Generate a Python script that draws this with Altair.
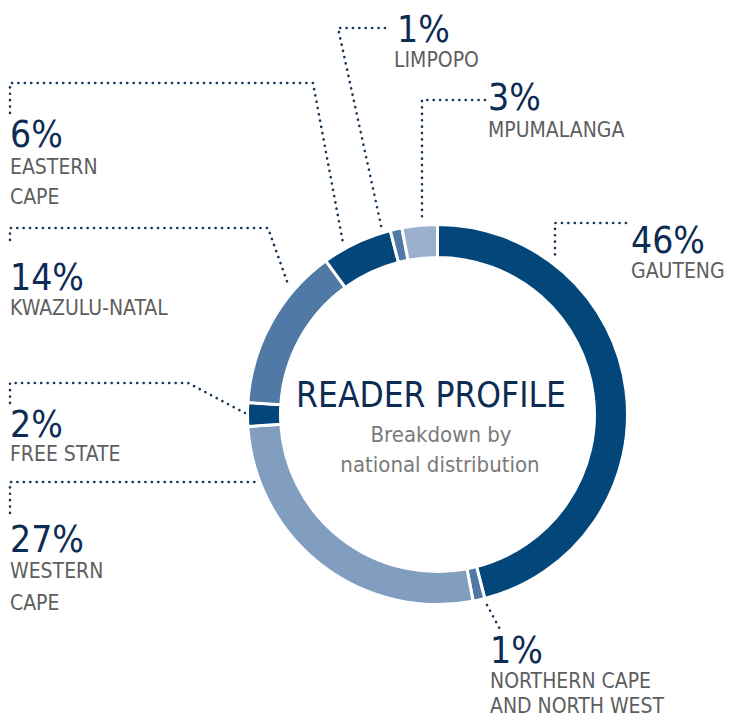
import altair as alt
import pandas as pd

# ---- data ----
regions = ["Gauteng", "Northern Cape and North West", "Western Cape", "Free State",
           "KwaZulu-Natal", "Eastern Cape", "Limpopo", "Mpumalanga"]
shares = [46, 1, 27, 2, 14, 6, 1, 3]
label_lines = [["GAUTENG"], ["NORTHERN CAPE", "AND NORTH WEST"], ["WESTERN", "CAPE"],
               ["FREE STATE"], ["KWAZULU-NATAL"], ["EASTERN", "CAPE"], ["LIMPOPO"], ["MPUMALANGA"]]
title_text = "READER PROFILE"
subtitle_lines = ["Breakdown by", "national distribution"]

# ---- styles / layout ----
slice_colors = ["#03477a", "#5079a5", "#819dc0", "#03477a", "#5079a5", "#03477a", "#5079a5", "#9bb0cd"]
NAVY = "#0d2c54"
GRAY = "#5e5e5e"
FONT = "Liberation Sans Narrow, DejaVu Sans Condensed, Roboto Condensed, Roboto"
CX, CY = 437.5, 414.5
pct_pos = [(631, 253), (490, 663), (10, 552), (10, 437), (10, 290), (10, 147), (397, 42), (488, 110)]
name_pos = [[(631, 278)], [(490, 688), (490, 713)], [(10, 578), (10, 610)], [(10, 461)],
            [(10, 315)], [(10, 174), (10, 204)], [(394, 67)], [(488, 137)]]
leaders = [
    [(626, 223), (555, 223), (555, 260)],
    [(487, 605), (502, 633)],
    [(10, 513), (10, 482), (255, 482)],
    [(10, 403), (10, 383), (188, 383), (245, 413)],
    [(10, 240), (10, 228), (268, 228), (289, 287)],
    [(10, 113), (10, 83), (313, 83), (343, 243)],
    [(385, 28), (338, 28), (382, 230)],
    [(485, 100), (422, 100), (422, 217)],
]

W, H = 717, 712
xs = alt.Scale(domain=[8, 8 + W], nice=False, zero=False)
ys = alt.Scale(domain=[8 + H, 8], nice=False, zero=False)

def X(f="x"):
    return alt.X(f"{f}:Q", scale=xs, axis=None)

def Y(f="y"):
    return alt.Y(f"{f}:Q", scale=ys, axis=None)

slices = pd.DataFrame({"region": regions, "share": shares, "idx": range(len(regions)),
                       "cx": CX, "cy": CY})
donut = alt.Chart(slices).mark_arc(radius=190, innerRadius=157, stroke="white", strokeWidth=3).encode(
    theta=alt.Theta("share:Q", stack=True),
    order=alt.Order("idx:Q"),
    color=alt.Color("region:N", scale=alt.Scale(domain=regions, range=slice_colors), legend=None),
    x=X("cx"), y=Y("cy"),
)

lrows = []
for i, pts in enumerate(leaders):
    for j, (px, py) in enumerate(pts):
        lrows.append({"line": i, "k": j, "x": px, "y": py})
lines = alt.Chart(pd.DataFrame(lrows)).mark_line(
    color="#15355a", strokeWidth=2.6, strokeDash=[0.1, 6.3], strokeCap="round"
).encode(x=X(), y=Y(), detail="line:N", order="k:Q")

pct_df = pd.DataFrame({"t": [f"{s}%" for s in shares],
                       "x": [p[0] for p in pct_pos], "y": [p[1] for p in pct_pos]})
pct = alt.Chart(pct_df).mark_text(align="left", baseline="alphabetic", font=FONT,
                                  fontSize=37, color=NAVY).encode(x=X(), y=Y(), text="t:N")

nrows = []
for lines_i, pos_i in zip(label_lines, name_pos):
    for t, (px, py) in zip(lines_i, pos_i):
        nrows.append({"t": t, "x": px, "y": py})
names = alt.Chart(pd.DataFrame(nrows)).mark_text(align="left", baseline="alphabetic", font=FONT,
                                                 fontSize=21, color=GRAY).encode(x=X(), y=Y(), text="t:N")

title = alt.Chart(pd.DataFrame({"t": [title_text], "x": [431], "y": [407]})).mark_text(
    align="center", baseline="alphabetic", font=FONT, fontSize=35, color=NAVY
).encode(x=X(), y=Y(), text="t:N")
sub = alt.Chart(pd.DataFrame({"t": subtitle_lines, "x": [441, 440], "y": [442, 472]})).mark_text(
    align="center", baseline="alphabetic", font=FONT, fontSize=22, color="#7a7a7a"
).encode(x=X(), y=Y(), text="t:N")

chart = alt.layer(lines, donut, pct, names, title, sub).properties(
    width=W, height=H, autosize=alt.AutoSizeParams(type="none"), padding=0
).configure_view(stroke=None)

chart.save("out.html", embed_options={"renderer": "svg", "actions": False})
